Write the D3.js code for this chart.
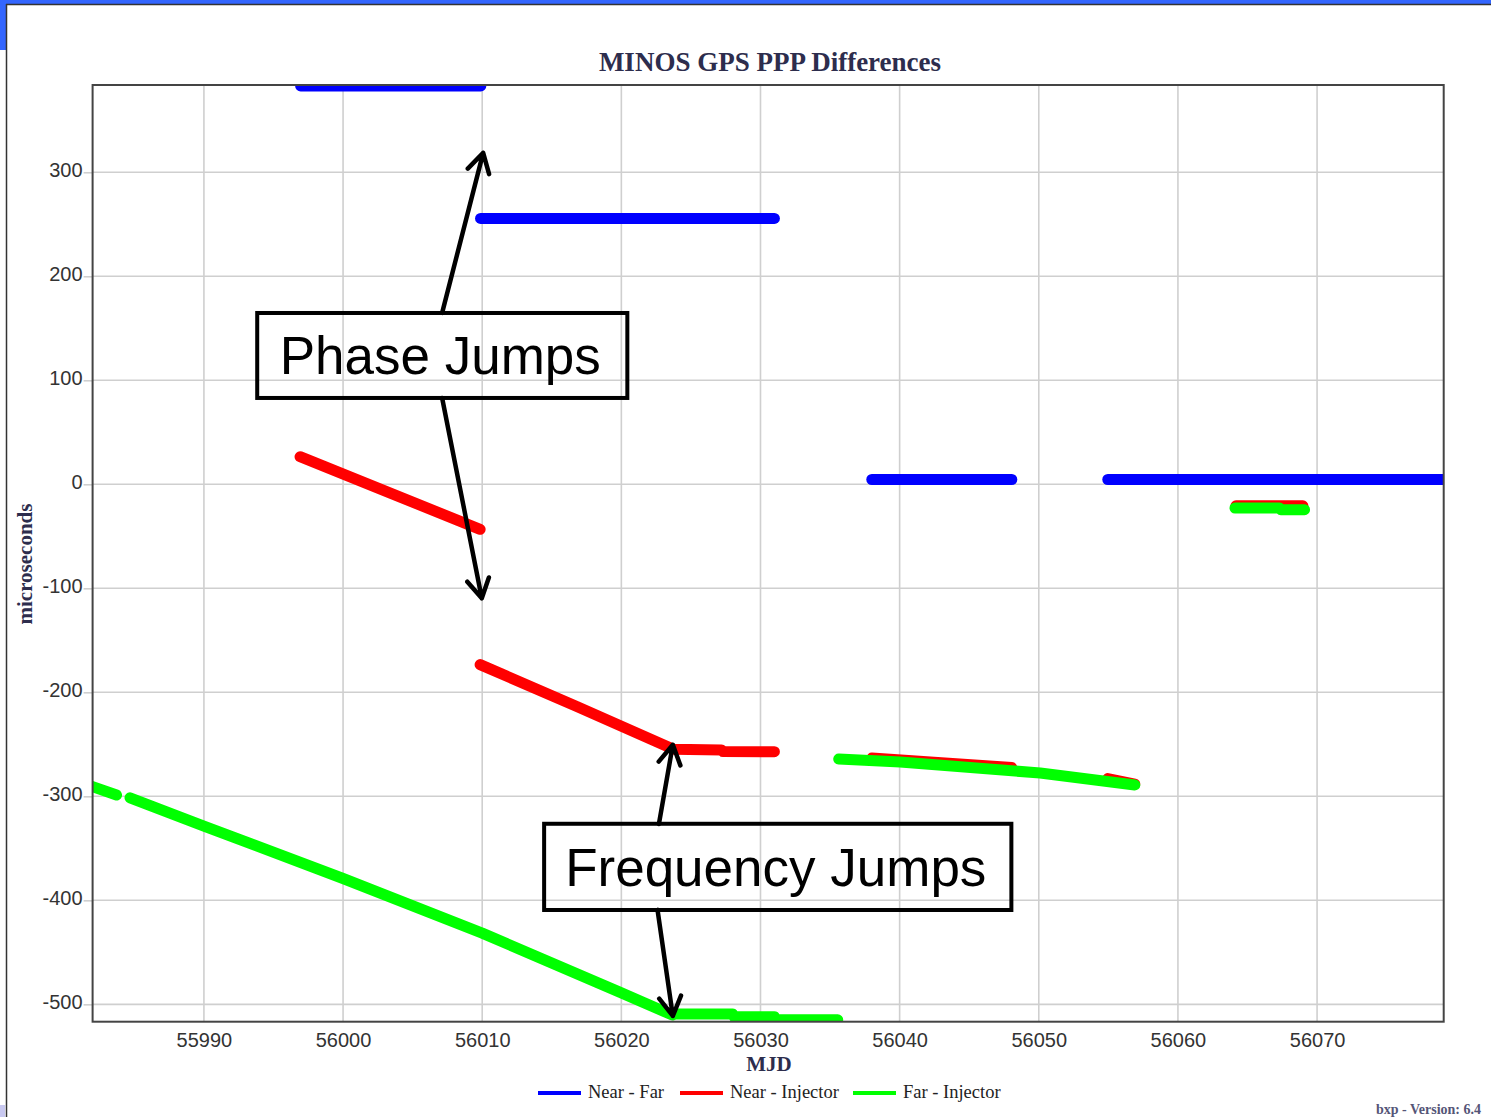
<!DOCTYPE html>
<html>
<head>
<meta charset="utf-8">
<script src="https://cdn.jsdelivr.net/npm/d3@7"></script>
<style>
  body { margin: 0; background: #fff; }
  svg { display: block; }
</style>
</head>
<body>
<svg id="chart" width="1491" height="1117"></svg>
<script>
// MJD range / microseconds range of the plot window
const xDomain = [55982, 56079.1]
const yDomain = [-516.7, 383.9]
const xTicks = [55990, 56000, 56010, 56020, 56030, 56040, 56050, 56060, 56070]
const yTicks = [-500, -400, -300, -200, -100, 0, 100, 200, 300]

// each series is a list of segments, each segment a list of [mjd, us]
const nearFar = [
    [[55996.95, 383], [56009.9, 383]],
    [[56009.88, 255.6], [56031.0, 255.6]],
    [[56038.0, 4.6], [56048.06, 4.6]],
    [[56054.96, 4.6], [56080, 4.6]],
]
const nearInjector = [
    [[55996.91, 26.5], [56003.4, -8.5], [56009.85, -43.3]],
    [[56009.85, -173.4], [56016.8, -213.6], [56023.75, -254.8], [56027.2, -255.5], [56027.3, -257], [56031.0, -257.1]],
    [[56038.0, -263.2], [56043.0, -267.6], [56048.06, -272.3]],
    [[56054.96, -282.9], [56056.9, -288.2]],
    [[56064.17, -20.7], [56068.98, -20.7]],
]
const farInjector = [
    [[55981.9, -290.3], [55983.72, -298.8]],
    [[55984.69, -301.4], [55990, -328.6], [56000, -379], [56010, -431.5], [56019.92, -488.5], [56023.66, -510.3]],
    [[56023.66, -509.4], [56028.0, -509.4], [56028.1, -512], [56031.0, -512], [56031.1, -514.9], [56035.55, -514.9]],
    [[56035.62, -264.1], [56040.04, -267], [56050.1, -277.6], [56056.9, -289.1]],
    [[56064.1, -22.8], [56067.3, -22.8], [56067.4, -24.4], [56069.1, -24.4]],
]

const seriesNames = ['Near - Far', 'Near - Injector', 'Far - Injector']
const seriesColors = ['#0000ff', '#ff0000', '#00ff00']

// annotation callouts, all in data units
const phaseBox = { x0: 55993.83, x1: 56020.43, y0: 164.7, y1: 83, label: 'Phase Jumps' }
const phaseArrows = [
    [[56007.12, 164.8], [56010.07, 318.6]],
    [[56007.12, 83], [56009.97, -109.6]],
]
const freqBox = { x0: 56014.45, x1: 56048.03, y0: -326.4, y1: -409.3, label: 'Frequency Jumps' }
const freqArrows = [
    [[56022.7, -326.6], [56023.7, -250.4]],
    [[56022.6, -409.2], [56023.7, -511.2]],
]

const svg = d3.select('#chart')

// page frame bits
svg.append('rect').attr('x', 0).attr('y', 0).attr('width', 1491).attr('height', 4).attr('fill', '#3366ff')
svg.append('rect').attr('x', 0).attr('y', 0).attr('width', 6).attr('height', 50).attr('fill', '#3366ff')
svg.append('line').attr('x1', 6).attr('x2', 1491).attr('y1', 4.5).attr('y2', 4.5)
    .attr('stroke', '#333').attr('stroke-width', 1.5)
svg.append('line').attr('x1', 6.5).attr('x2', 6.5).attr('y1', 4).attr('y2', 1117)
    .attr('stroke', '#333').attr('stroke-width', 1.5)
svg.append('rect').attr('x', 0).attr('y', 1105).attr('width', 5).attr('height', 12).attr('fill', '#c8c8f0')

const plotLeft = 92.6
const plotRight = 1443.7
const plotTop = 85
const plotBottom = 1021.7

const x = d3.scaleLinear().domain(xDomain).range([plotLeft, plotRight])
const y = d3.scaleLinear().domain(yDomain).range([plotBottom, plotTop])

// grid
const grid = svg.append('g')
grid.selectAll('.vg').data(xTicks).enter().append('line')
    .attr('x1', d => x(d)).attr('x2', d => x(d))
    .attr('y1', plotTop).attr('y2', plotBottom)
    .attr('stroke', '#cfcfcf').attr('stroke-width', 1.6)
grid.selectAll('.hg').data(yTicks).enter().append('line')
    .attr('x1', plotLeft).attr('x2', plotRight)
    .attr('y1', d => y(d)).attr('y2', d => y(d))
    .attr('stroke', '#cfcfcf').attr('stroke-width', 1.6)

// axes (labels only, the ticks are the grid)
const plainNum = d => String(d)
const xAxis = svg.append('g')
    .attr('transform', `translate(0,${plotBottom})`)
    .call(d3.axisBottom(x).tickValues(xTicks).tickFormat(plainNum).tickSize(0).tickPadding(11))
const yAxis = svg.append('g')
    .attr('transform', `translate(${plotLeft},0)`)
    .call(d3.axisLeft(y).tickValues(yTicks).tickFormat(plainNum).tickSize(9).tickPadding(1))
xAxis.select('.domain').remove()
yAxis.select('.domain').remove()
yAxis.selectAll('.tick line').attr('stroke', '#cfcfcf').attr('stroke-width', 1.6)
svg.selectAll('.tick text')
    .attr('font-family', 'Liberation Sans, Arial, sans-serif')
    .attr('font-size', 20)
    .attr('fill', '#333')
yAxis.selectAll('.tick text').attr('dy', '0.2em')

// data
svg.append('clipPath').attr('id', 'plotclip')
    .append('rect').attr('x', plotLeft).attr('y', plotTop)
    .attr('width', plotRight - plotLeft).attr('height', plotBottom - plotTop)

const line = d3.line().x(d => x(d[0])).y(d => y(d[1]))
const plot = svg.append('g').attr('clip-path', 'url(#plotclip)')

;[nearFar, nearInjector, farInjector].forEach((segs, i) => {
    plot.append('g').selectAll('path').data(segs).enter().append('path')
        .attr('d', line)
        .attr('fill', 'none')
        .attr('stroke', seriesColors[i])
        .attr('stroke-width', 11)
        .attr('stroke-linecap', 'round')
        .attr('stroke-linejoin', 'round')
})

// plot frame
svg.append('rect')
    .attr('x', plotLeft).attr('y', plotTop)
    .attr('width', plotRight - plotLeft).attr('height', plotBottom - plotTop)
    .attr('fill', 'none').attr('stroke', '#444').attr('stroke-width', 2)

// titles
const serif = 'Liberation Serif, Times New Roman, serif'
svg.append('text').attr('x', 770).attr('y', 71).attr('text-anchor', 'middle')
    .attr('font-family', serif).attr('font-weight', 'bold').attr('font-size', 27)
    .attr('fill', '#2d2d4d').text('MINOS GPS PPP Differences')
svg.append('text').attr('x', 769).attr('y', 1071).attr('text-anchor', 'middle')
    .attr('font-family', serif).attr('font-weight', 'bold').attr('font-size', 21)
    .attr('fill', '#2d2d4d').text('MJD')
svg.append('text').attr('transform', 'translate(32,564) rotate(-90)').attr('text-anchor', 'middle')
    .attr('font-family', serif).attr('font-weight', 'bold').attr('font-size', 21)
    .attr('fill', '#2d2d4d').text('microseconds')
svg.append('text').attr('x', 1376).attr('y', 1114)
    .attr('font-family', serif).attr('font-weight', 'bold').attr('font-size', 14)
    .attr('fill', '#555577').text('bxp - Version: 6.4')

// legend
const legendX = [538, 680, 853]
const legend = svg.append('g')
seriesNames.forEach((name, i) => {
    legend.append('line')
        .attr('x1', legendX[i]).attr('x2', legendX[i] + 43)
        .attr('y1', 1093).attr('y2', 1093)
        .attr('stroke', seriesColors[i]).attr('stroke-width', 4)
    legend.append('text')
        .attr('x', legendX[i] + 50).attr('y', 1098)
        .attr('font-family', serif).attr('font-size', 18.5)
        .attr('fill', '#222').text(name)
})

// callouts
function arrow(g, pts) {
    const [p0, p1] = pts.map(p => [x(p[0]), y(p[1])])
    const ang = Math.atan2(p1[1] - p0[1], p1[0] - p0[0])
    const len = 22
    const a1 = ang + Math.PI - Math.PI / 6
    const a2 = ang + Math.PI + Math.PI / 6
    const path = d3.path()
    path.moveTo(p0[0], p0[1])
    path.lineTo(p1[0], p1[1])
    path.moveTo(p1[0] + len * Math.cos(a1), p1[1] + len * Math.sin(a1))
    path.lineTo(p1[0], p1[1])
    path.lineTo(p1[0] + len * Math.cos(a2), p1[1] + len * Math.sin(a2))
    g.append('path').attr('d', path.toString())
        .attr('fill', 'none').attr('stroke', '#000').attr('stroke-width', 4.5)
        .attr('stroke-linecap', 'round').attr('stroke-linejoin', 'round')
}

function callout(box, arrows) {
    const g = svg.append('g')
    arrows.forEach(a => arrow(g, a))
    g.append('rect')
        .attr('x', x(box.x0)).attr('y', y(box.y0))
        .attr('width', x(box.x1) - x(box.x0)).attr('height', y(box.y1) - y(box.y0))
        .attr('fill', 'none').attr('stroke', '#000').attr('stroke-width', 4)
    g.append('text')
        .attr('x', (x(box.x0) + x(box.x1)) / 2 - 2)
        .attr('y', (y(box.y0) + y(box.y1)) / 2 + 19)
        .attr('text-anchor', 'middle')
        .attr('font-family', 'Liberation Sans, Arial, sans-serif')
        .attr('font-size', 53)
        .attr('fill', '#000')
        .text(box.label)
}

callout(phaseBox, phaseArrows)
callout(freqBox, freqArrows)
</script>
</body>
</html>
